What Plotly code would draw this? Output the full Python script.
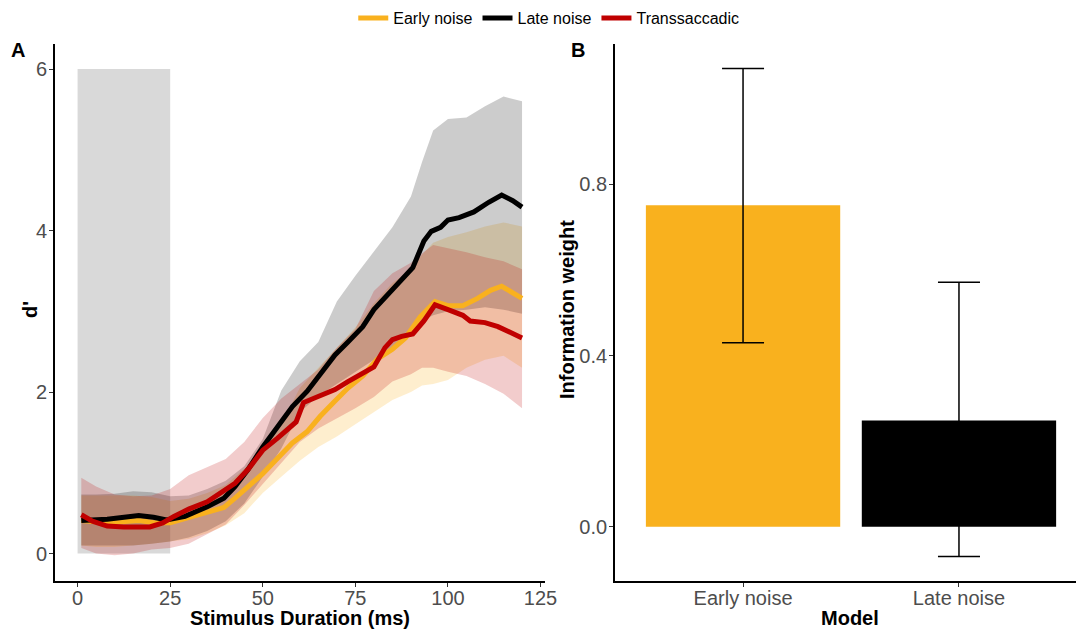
import plotly.graph_objects as go

# ---------------- Panel A data ----------------
late_x = [1, 8, 16.5, 20.5, 24, 29, 35, 39.5, 42.5, 46, 50, 54, 58, 62, 65.5, 69.5, 73, 77, 80, 84,
          87.5, 90.5, 93.5, 95.5, 98, 100, 103, 107, 111, 114.5, 117.5, 120]
late_y = [0.41, 0.425, 0.47, 0.45, 0.415, 0.46, 0.58, 0.685, 0.83, 1.04, 1.32, 1.56, 1.82, 2.01, 2.22,
          2.46, 2.62, 2.81, 3.02, 3.21, 3.38, 3.54, 3.87, 3.99, 4.04, 4.13, 4.16, 4.23, 4.35, 4.44, 4.37, 4.29]

early_x = [1, 8, 16.5, 21, 25, 30, 35, 39.5, 42.5, 46, 50, 54, 58, 62, 65.5, 69.5, 73, 77, 81, 85,
           88.5, 92.5, 96.5, 100, 104, 108, 111.5, 114.5, 120]
early_y = [0.41, 0.38, 0.41, 0.38, 0.38, 0.45, 0.52, 0.57, 0.685, 0.83, 0.99, 1.18, 1.37, 1.51, 1.70,
           1.89, 2.05, 2.20, 2.41, 2.53, 2.67, 2.93, 3.12, 3.07, 3.07, 3.16, 3.26, 3.31, 3.16]

trans_x = [1, 4, 8, 12.5, 19.5, 23, 26, 30, 35, 38.5, 42.5, 46, 50, 54, 57, 59, 61, 64.5, 69.5, 73,
           77, 80, 83, 85, 87.5, 90.5, 93.5, 96.5, 100, 104, 106, 110, 113.5, 120]
trans_y = [0.48, 0.40, 0.34, 0.33, 0.33, 0.38, 0.46, 0.55, 0.64, 0.74, 0.87, 1.04, 1.28, 1.43, 1.56,
           1.63, 1.87, 1.94, 2.03, 2.13, 2.24, 2.31, 2.55, 2.65, 2.69, 2.72, 2.88, 3.08, 3.02, 2.95,
           2.88, 2.86, 2.81, 2.67]

rib_x = [1, 5, 10, 15, 20, 25, 30, 35, 40, 45, 50, 55, 60, 65, 70, 75, 80, 85, 90, 93, 96, 100,
         105, 110, 115, 120]
late_hi = [0.73, 0.73, 0.74, 0.77, 0.76, 0.71, 0.72, 0.80, 0.90, 1.08, 1.42, 2.02, 2.38, 2.62, 3.12,
           3.44, 3.74, 4.04, 4.42, 4.85, 5.24, 5.38, 5.40, 5.54, 5.66, 5.60]
late_lo = [0.10, 0.10, 0.10, 0.10, 0.12, 0.15, 0.20, 0.28, 0.40, 0.62, 0.95, 1.30, 1.75, 1.95, 2.10,
           2.25, 2.40, 2.55, 2.78, 2.88, 2.95, 3.00, 3.02, 3.05, 3.02, 2.97]
early_hi = [0.72, 0.72, 0.72, 0.72, 0.70, 0.65, 0.68, 0.75, 0.85, 1.05, 1.30, 1.60, 2.05, 2.30, 2.55,
            2.80, 3.10, 3.35, 3.52, 3.70, 3.85, 3.92, 3.98, 4.05, 4.10, 4.05]
early_lo = [0.10, 0.08, 0.08, 0.10, 0.12, 0.15, 0.18, 0.25, 0.35, 0.50, 0.75, 0.95, 1.15, 1.32, 1.45,
            1.60, 1.75, 1.90, 2.00, 2.08, 2.10, 2.15, 2.30, 2.40, 2.45, 2.30]
trans_hi = [0.94, 0.83, 0.73, 0.71, 0.72, 0.80, 0.97, 1.07, 1.17, 1.38, 1.68, 1.92, 2.10, 2.28, 2.55,
            2.78, 3.25, 3.47, 3.60, 3.72, 3.82, 3.78, 3.73, 3.67, 3.62, 3.52]
trans_lo = [0.07, 0.00, -0.02, 0.00, 0.05, 0.07, 0.12, 0.24, 0.36, 0.60, 0.86, 1.13, 1.38, 1.55, 1.67,
            1.80, 1.94, 2.13, 2.22, 2.30, 2.30, 2.25, 2.20, 2.10, 1.98, 1.80]

shade_x = [0, 25]
shade_y = [0, 6]

# ---------------- Panel B data ----------------
models = ["Early noise", "Late noise"]
weights = [0.751, 0.248]
ci_low = [0.430, -0.070]
ci_high = [1.071, 0.571]

ORANGE = "#F9B11E"
BLACK = "#000000"
RED = "#C00000"

series = [
    ("Early noise", early_x, early_y, early_lo, early_hi, ORANGE, "rgba(249,177,30,0.22)"),
    ("Late noise", late_x, late_y, late_lo, late_hi, BLACK, "rgba(0,0,0,0.2)"),
    ("Transsaccadic", trans_x, trans_y, trans_lo, trans_hi, RED, "rgba(192,0,0,0.2)"),
]

fig = go.Figure()

# ribbons
for name, x, y, lo, hi, col, fcol in series:
    fig.add_trace(go.Scatter(x=rib_x, y=lo, mode="lines", line=dict(width=0), showlegend=False,
                             hoverinfo="skip", xaxis="x", yaxis="y"))
    fig.add_trace(go.Scatter(x=rib_x, y=hi, mode="lines", line=dict(width=0), fill="tonexty",
                             fillcolor=fcol, showlegend=False, hoverinfo="skip", xaxis="x", yaxis="y"))

# lines
for name, x, y, lo, hi, col, fcol in series:
    fig.add_trace(go.Scatter(x=x, y=y, mode="lines", name=name, line=dict(color=col, width=5),
                             xaxis="x", yaxis="y"))

# bars
fig.add_trace(go.Bar(
    x=models, y=weights, marker=dict(color=[ORANGE, BLACK], line=dict(width=0)), width=0.9,
    error_y=dict(type="data", symmetric=False,
                 array=[h - w for h, w in zip(ci_high, weights)],
                 arrayminus=[w - l for l, w in zip(ci_low, weights)],
                 color="black", thickness=1.5, width=21),
    showlegend=False, xaxis="x2", yaxis="y2"))

fig.add_shape(type="rect", xref="x", yref="y", x0=shade_x[0], x1=shade_x[1], y0=shade_y[0],
              y1=shade_y[1], fillcolor="#D9D9D9", line=dict(width=0), layer="below")

FONT = "Liberation Sans, Arial, sans-serif"
tickfont = dict(family=FONT, size=20, color="#4D4D4D")
titlefont = dict(family=FONT, size=20, color="black")
axis_common = dict(showline=True, linecolor="black", linewidth=1.8, ticks="outside", ticklen=4,
                   tickcolor="#333333", tickwidth=1.2, showgrid=False, zeroline=False,
                   tickfont=tickfont, automargin=False)

YDOM = [(629 - 581) / 629, (629 - 44) / 629]


def ann(text, x, y, angle=0):
    return dict(text=text, x=x / 1076, y=(629 - y) / 629, xref="paper", yref="paper",
                showarrow=False, font=titlefont, textangle=angle,
                xanchor="center", yanchor="middle")


fig.update_layout(
    width=1076, height=629,
    margin=dict(l=0, r=0, t=0, b=0),
    plot_bgcolor="white", paper_bgcolor="white",
    font=dict(family=FONT),
    xaxis=dict(domain=[55/1076, 545/1076], range=[-6.1, 126.2], tickvals=[0, 25, 50, 75, 100, 125],
               anchor="y", ticklabelstandoff=-6, **axis_common),
    yaxis=dict(domain=YDOM, range=[-0.34, 6.31], tickvals=[0, 2, 4, 6],
               anchor="x", ticklabelstandoff=-2, **axis_common),
    xaxis2=dict(domain=[615/1076, 1.0], range=[-0.593, 1.542], type="category",
                anchor="y2", ticklabelstandoff=-6, **axis_common),
    yaxis2=dict(domain=YDOM, range=[-0.127, 1.128], tickvals=[0, 0.4, 0.8],
                tickformat=".1f", anchor="x2", ticklabelstandoff=-2, **axis_common),
    legend=dict(orientation="h", x=0.51, xanchor="center", y=(629-18)/629, yanchor="middle",
                font=dict(family=FONT, size=16, color="black"), traceorder="normal",
                itemwidth=30, bgcolor="rgba(0,0,0,0)"),
    annotations=[
        dict(text="<b>A</b>", x=18/1076, y=(629-50)/629, xref="paper", yref="paper",
             showarrow=False, font=dict(size=20, color="black"), xanchor="center", yanchor="middle"),
        dict(text="<b>B</b>", x=578/1076, y=(629-50)/629, xref="paper", yref="paper",
             showarrow=False, font=dict(size=20, color="black"), xanchor="center", yanchor="middle"),
        ann("<b>Stimulus Duration (ms)</b>", 300, 618),
        ann("<b>d'</b>", 30, 310, -90),
        ann("<b>Model</b>", 850, 618),
        ann("<b>Information weight</b>", 567, 310, -90),
    ],
)

fig.write_html("out.html")
